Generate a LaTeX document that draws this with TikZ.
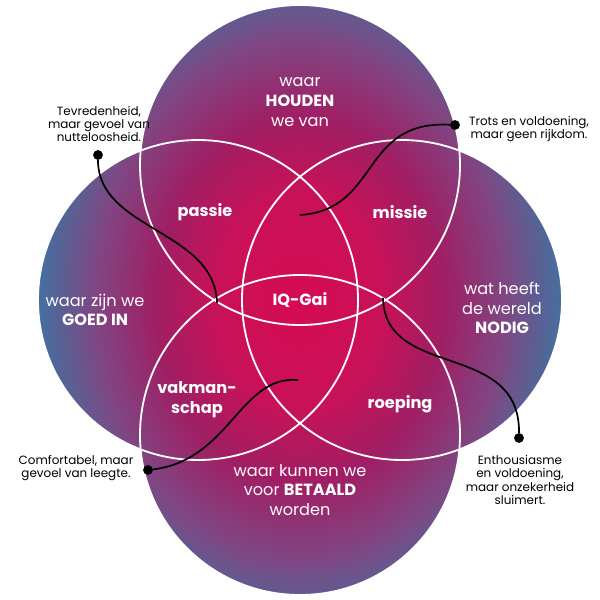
\documentclass[tikz,border=0pt]{standalone}
\usepackage{fontspec}
\setmainfont{Poppins}
\definecolor{cmag}{RGB}{214,10,82}
\definecolor{cmag2}{RGB}{200,18,88}
\definecolor{ccrim}{RGB}{160,30,100}
\definecolor{cpur}{RGB}{128,70,130}
\definecolor{cblue}{RGB}{52,122,166}
\pgfdeclareradialshading{ikigai}{\pgfpoint{0bp}{0bp}}{%
 color(0bp)=(cmag); color(7bp)=(cmag2); color(12bp)=(ccrim); color(17bp)=(cpur); color(23bp)=(cblue); color(50bp)=(cblue)}
\begin{document}
\begin{tikzpicture}[x=0.025cm,y=-0.025cm,
  lab/.style={text=white,align=center,font=\fontsize{11.5}{14}\selectfont},
  blab/.style={lab,font=\bfseries\fontsize{11.5}{14}\selectfont},
  call/.style={text=black,align=center,font=\fontsize{8.5}{9.5}\selectfont},
  ring/.style={draw=white,line width=1.3pt},
  link/.style={draw=black,line width=1.2pt},
  dot/.style={fill=black,circle,inner sep=0pt,minimum size=7pt}]
\useasboundingbox (0,0) rectangle (600,600);
\coordinate (ct) at (300,165);
\coordinate (cl) at (198,300);
\coordinate (cr) at (402,300);
\coordinate (cb) at (300,435);
\begin{scope}
\clip (ct) circle (160) (cl) circle (160) (cr) circle (160) (cb) circle (160);
\shade[shading=ikigai] (0,-80) rectangle (600,680);
\end{scope}
\draw[ring] (ct) circle (160) (cl) circle (160) (cr) circle (160) (cb) circle (160);
% labels
\node[lab] (top) at (300,102) {waar\\\textbf{HOUDEN}\\we van};
\node[lab] (left) at (95,310) {waar zijn we\\\textbf{GOED IN}};
\node[lab] (right) at (502,308) {wat heeft\\de wereld\\\textbf{NODIG}};
\node[lab] (bot) at (300,490) {waar kunnen we\\voor \textbf{BETAALD}\\worden};
\node[blab] (pas) at (205,212) {passie};
\node[blab] (mis) at (400,212) {missie};
\node[blab] (vak) at (197,400) {vakman-\\schap};
\node[blab] (roe) at (400,404) {roeping};
\node[blab] (iq) at (300,300) {IQ-Gai};
% callouts
\node[call] (t1) at (99,124) {Tevredenheid,\\maar gevoel van\\nutteloosheid.};
\node[call] (t2) at (529,129) {Trots en voldoening,\\maar geen rijkdom.};
\node[call] (t3) at (76,468) {Comfortabel, maar\\gevoel van leegte.};
\node[call] (t4) at (520,480) {Enthousiasme\\en voldoening,\\maar onzekerheid\\sluimert.};
\node[dot] (d1) at (98,155) {};
\node[dot] (d2) at (455,125) {};
\node[dot] (d3) at (148,470) {};
\node[dot] (d4) at (519,438) {};
\coordinate (e1) at (217,303);
\coordinate (e2) at (300,215);
\coordinate (e3) at (298,380);
\coordinate (e4) at (383,298);
\draw[link] (d1) .. controls (98,230) and (215,230) .. (e1);
\draw[link] (d2) .. controls (360,120) and (380,210) .. (e2);
\draw[link] (d3) .. controls (230,460) and (240,375) .. (e3);
\draw[link] (e4) .. controls (385,380) and (520,340) .. (d4);
\end{tikzpicture}
\end{document}
